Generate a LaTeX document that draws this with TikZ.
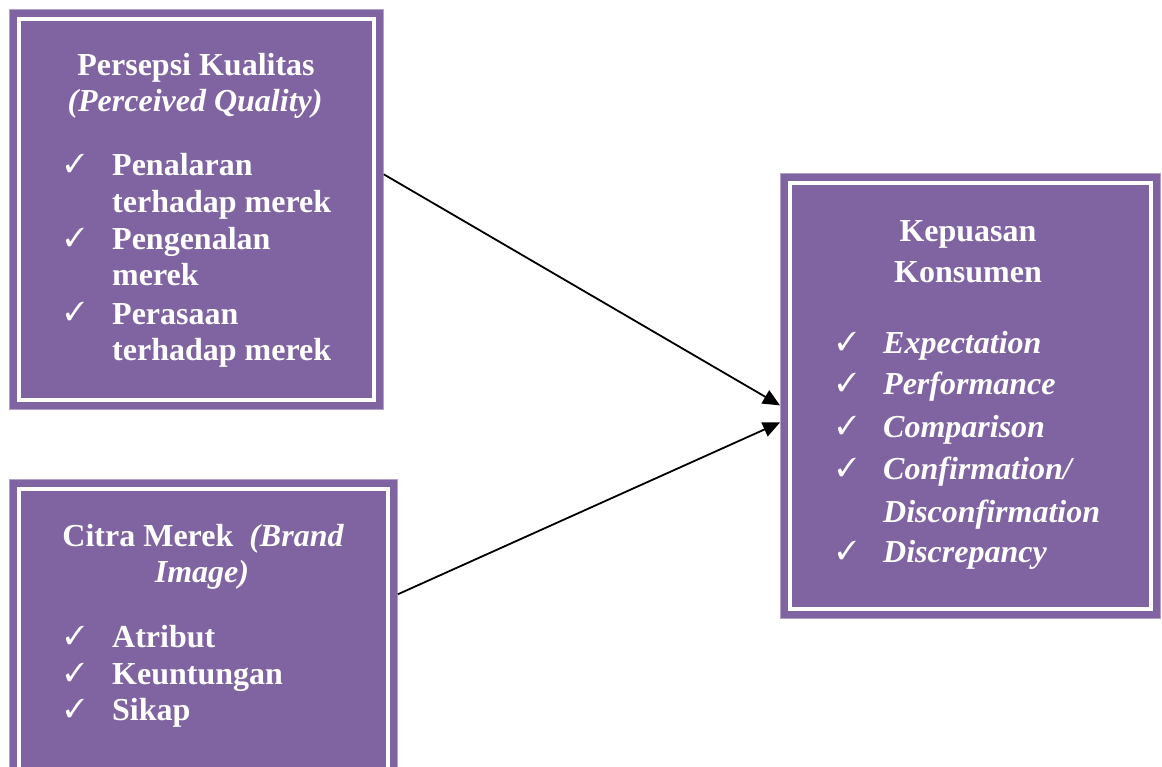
\documentclass[tikz,border=0pt]{standalone}
\usepackage{fontspec}
\setmainfont{Liberation Serif}
\usepackage{pifont}
\usetikzlibrary{arrows.meta,calc}
\definecolor{boxpurple}{HTML}{8064A2}
\definecolor{edgepurple}{HTML}{B3A2C7}
\begin{document}
\begin{tikzpicture}[x=1pt,y=-1pt,
  outerbox/.style={fill=boxpurple, draw=edgepurple, line width=0.8pt, inner sep=0pt, anchor=north west},
  innerline/.style={draw=white, line width=3.5pt},
  txt/.style={text=white, font=\fontsize{32}{37}\selectfont\bfseries, inner sep=0pt, anchor=base west},
  ttl/.style={txt, anchor=base},
  chk/.style={text=white, font=\fontsize{26}{26}\selectfont, inner sep=0pt, anchor=base west},
  arr/.style={draw=black, line width=1.8pt, -{Triangle[length=17pt,width=15pt]}}]
\useasboundingbox (0,0) rectangle (1162,767);

% boxes
\node[outerbox, minimum width=374pt, minimum height=400pt] (b1) at (9,9) {};
\node[outerbox, minimum width=388pt, minimum height=300pt] (b2) at (9,479) {};
\node[outerbox, minimum width=380pt, minimum height=445pt] (b3) at (780,173) {};
\foreach \b in {b1,b2,b3}{
  \draw[innerline] ([shift={(10pt,-10pt)}]\b.north west) rectangle ([shift={(-10pt,10pt)}]\b.south east);
}

% box 1 text
\node[ttl] (t1a) at (196,76) {Persepsi Kualitas};
\node[ttl] (t1b) at (195,112) {\itshape(Perceived Quality)};
\node[chk] (c1a) at (65,173) {\ding{51}};
\node[txt] (i1a) at (112,176) {Penalaran};
\node[txt] (i1b) at (112,213) {terhadap merek};
\node[chk] (c1b) at (65,247) {\ding{51}};
\node[txt] (i1c) at (112,250) {Pengenalan};
\node[txt] (i1d) at (112,286) {merek};
\node[chk] (c1c) at (65,321) {\ding{51}};
\node[txt] (i1e) at (112,324) {Perasaan};
\node[txt] (i1f) at (112,360) {terhadap merek};

% box 2 text
\node[ttl] (t2a) at (203,546) {Citra Merek\ \ \itshape(Brand};
\node[ttl] (t2b) at (202,582) {\itshape Image)};
\node[chk] (c2a) at (65,644) {\ding{51}};
\node[txt] (i2a) at (112,647) {Atribut};
\node[chk] (c2b) at (65,681) {\ding{51}};
\node[txt] (i2b) at (112,684) {Keuntungan};
\node[chk] (c2c) at (65,717) {\ding{51}};
\node[txt] (i2c) at (112,720) {Sikap};

% box 3 text
\node[ttl] (t3a) at (968,242) {Kepuasan};
\node[ttl] (t3b) at (968,283) {Konsumen};
\node[chk] (c3a) at (837,350) {\ding{51}};
\node[txt] (i3a) at (883,353) {\itshape Expectation};
\node[chk] (c3b) at (837,391) {\ding{51}};
\node[txt] (i3b) at (883,394) {\itshape Performance};
\node[chk] (c3c) at (837,434) {\ding{51}};
\node[txt] (i3c) at (883,437) {\itshape Comparison};
\node[chk] (c3d) at (837,476) {\ding{51}};
\node[txt] (i3d) at (883,479) {\itshape Confirmation/};
\node[txt] (i3e) at (883,522) {\itshape Disconfirmation};
\node[chk] (c3e) at (837,559) {\ding{51}};
\node[txt] (i3f) at (883,562) {\itshape Discrepancy};

% connectors
\draw[arr] ($(b1.north east)!0.4125!(b1.south east)$) -- ($(b3.north west)!0.5213!(b3.south west)$);
\draw[arr] ($(b2.north east)!0.3833!(b2.south east)$) -- ($(b3.north west)!0.5596!(b3.south west)$);
\end{tikzpicture}
\end{document}
